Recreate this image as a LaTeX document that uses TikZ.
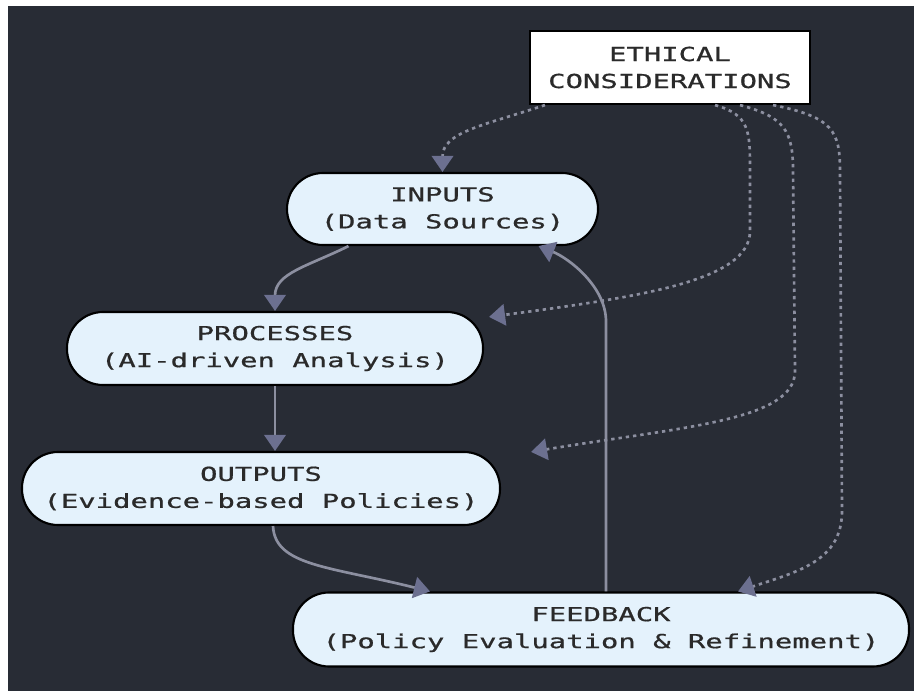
\documentclass[tikz,border=0pt]{standalone}
\usepackage{fontspec}
\newfontfamily\dmono[FakeStretch=1.5,FakeBold=0.8]{DejaVu Sans Mono}
\usetikzlibrary{arrows.meta,calc}
\definecolor{bg}{HTML}{282C35}
\definecolor{nodefill}{HTML}{E4F2FC}
\definecolor{txt}{HTML}{2A2A2A}
\definecolor{edgec}{HTML}{8C8FA0}
\definecolor{tipc}{HTML}{6C7090}
\newcommand\nodef{\dmono\fontsize{14.45}{20.25}\selectfont}
\begin{document}
\begin{tikzpicture}[x=0.75pt,y=-0.75pt,
  stadium/.style={draw=black, line width=1.6pt, fill=nodefill, rounded corners=27pt,
    text=txt, font=\nodef, align=center, inner sep=0pt},
  ebox/.style={draw=black, line width=1.6pt, fill=white,
    text=txt, font=\nodef, align=center, inner sep=0pt},
  flow/.style={draw=edgec, line width=2pt, -{Triangle[length=12pt,width=16pt,color=tipc]}},
  dflow/.style={flow, dash pattern=on 2.5pt off 3pt}]
\fill[white] (0,0) rectangle (914,691);
\fill[bg] (8,6) rectangle (914,691);
\useasboundingbox (0,0) rectangle (914,691);

\node[ebox, minimum width=210pt, minimum height=54.75pt] (eth) at (670,67.5) {ETHICAL\\CONSIDERATIONS};
\node[stadium, minimum width=233.25pt, minimum height=54pt] (in) at (442.5,209) {INPUTS\\(Data Sources)};
\node[stadium, minimum width=312pt, minimum height=54.75pt] (proc) at (275,348.5) {PROCESSES\\(AI-driven Analysis)};
\node[stadium, minimum width=358.5pt, minimum height=54.75pt] (out) at (261,488.5) {OUTPUTS\\(Evidence-based Policies)};
\node[stadium, minimum width=462pt, minimum height=55.5pt] (fb) at (601,629.5) {FEEDBACK\\(Policy Evaluation \& Refinement)};

\draw[flow] ($(in.south)+(-94,0)$) .. controls +(-40,20) and +(0,-38) .. (proc.north);
\draw[flow] (proc.south) -- (proc.south |- out.north);
\draw[flow] ($(out.south)+(12,0)$) .. controls +(2,40) and +(-100,-25) .. ($(fb.north)+(-171,0)$);
\draw[flow] ($(fb.north)+(5,0)$) -- ++(0,-270) .. controls +(0,-35) and +(30,12) .. ($(in.south)+(96,0)$);

\draw[dflow] ($(eth.south)+(-125,0)$) .. controls +(-60,20) and +(0,-40) .. (in.north);
\draw[dflow] ($(eth.south)+(45,0)$) .. controls +(35,10) and +(0,-40) .. ++(35,66) -- ++(0,60) .. controls +(0,50) and +(150,-20) .. ($(proc.north east)+(5,6)$);
\draw[dflow] ($(eth.south)+(70,0)$) .. controls +(45,12) and +(0,-40) .. ++(53,66) -- ++(2,200) .. controls +(0,50) and +(150,-25) .. ($(out.north east)+(30,1)$);
\draw[dflow] ($(eth.south)+(103,0)$) .. controls +(60,12) and +(0,-40) .. ++(67,66) -- ++(2,340) .. controls +(0,50) and +(60,-20) .. ($(fb.north)+(137,0)$);
\end{tikzpicture}
\end{document}
